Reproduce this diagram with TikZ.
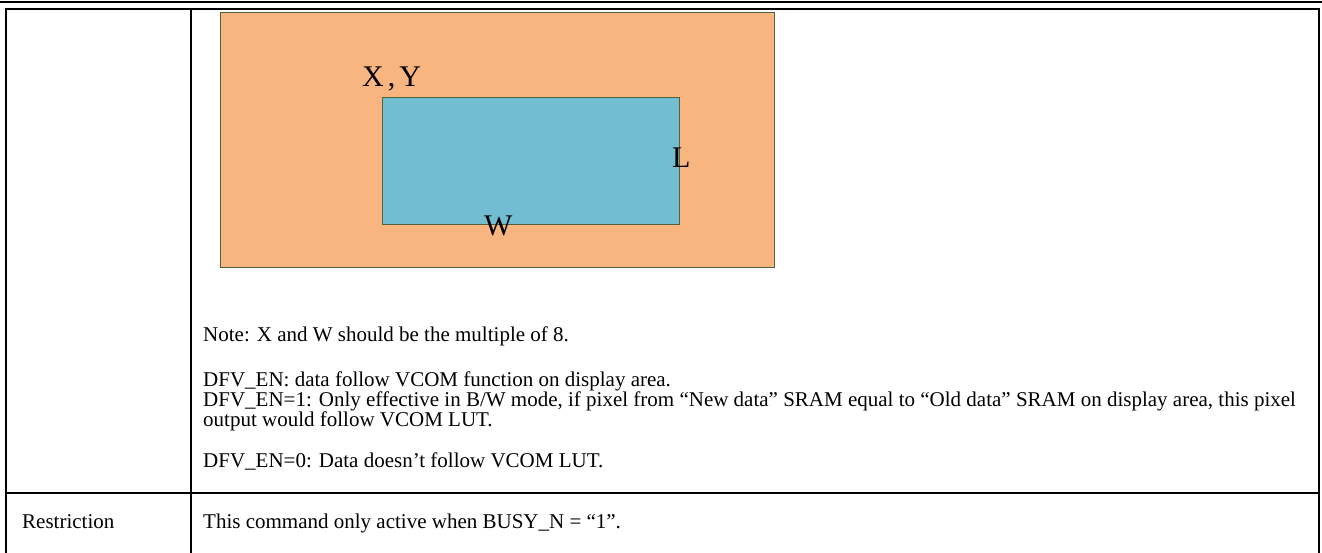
\documentclass[tikz,border=0pt]{standalone}
\usepackage{fontspec}
\setmainfont{Liberation Serif}
\definecolor{panelorange}{RGB}{248,181,127}
\definecolor{areablue}{RGB}{114,189,209}
\definecolor{edgeolive}{RGB}{80,98,60}
\tikzset{
  cell/.style={line width=2.2pt},
  bodytext/.style={anchor=base west, inner sep=0pt, font=\fontsize{21}{24}\selectfont},
  dimlabel/.style={anchor=base west, inner sep=0pt, font=\fontsize{30}{30}\selectfont},
}
\begin{document}
\begin{tikzpicture}[x=1pt, y=-1pt]
        \useasboundingbox (0,0) rectangle (1322,553);
        % table rules
        \draw[line width=2.5pt] (0,2) -- (1322,2);
        \draw[cell] (6,553) -- (6,9) -- (1319,9) -- (1319,553);
        \draw[cell] (191,9) -- (191,553);
        \draw[cell] (6,493) -- (1319,493);
        % display window
        \draw[fill=panelorange, draw=edgeolive] (220,12) rectangle (774,267);
        \draw[fill=areablue, draw=edgeolive] (382,97) rectangle (679,224);
        \node[dimlabel] (xy) at (362,87) {X\hspace{4pt},\hspace{4pt}Y};
        \node[dimlabel] (len) at (672,168) {L};
        \node[dimlabel] (wid) at (484,236) {W};
        % notes
        \node[bodytext] (note) at (203,341) {Note: X and W should be the multiple of 8.};
        \node[bodytext] (dfv) at (203,386) {DFV\_EN: data follow VCOM function on display area.};
        \node[bodytext] (dfvone) at (203,406) {DFV\_EN=1: Only effective in B/W mode, if pixel from “New data” SRAM equal to “Old data” SRAM on display area, this pixel};
        \node[bodytext] (dfvout) at (203,426) {output would follow VCOM LUT.};
        \node[bodytext] (dfvzero) at (203,467) {DFV\_EN=0: Data doesn’t follow VCOM LUT.};
        \node[bodytext] (restr) at (22,528) {Restriction};
        \node[bodytext] (busy) at (203,528) {This command only active when BUSY\_N = “1”.};
      \end{tikzpicture}
\end{document}
